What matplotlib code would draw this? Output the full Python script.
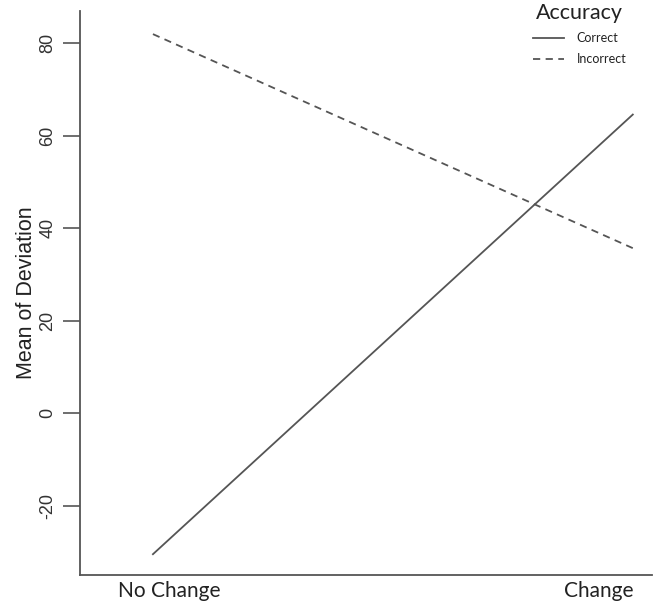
import matplotlib
matplotlib.use("Agg")
import matplotlib.pyplot as plt
from matplotlib.lines import Line2D

conditions = ["No Change", "Change"]
correct = [-30.5, 64.6]
incorrect = [82.0, 35.7]
yticks = [-20, 0, 20, 40, 60, 80]

fig = plt.figure(figsize=(6.55, 6.02), dpi=100)
ax = fig.add_axes([80 / 655, 27 / 602, 572 / 655, 564 / 602])

xpos = [1, 2]
ax.plot(xpos, correct, color="#555555", lw=1.3, ls="-")
ax.plot(xpos, incorrect, color="#555555", lw=1.3, ls=(0, (4, 3)))

ax.set_xlim(0.848, 2.04)
ax.set_ylim(-35, 87)

for s in ["top", "right"]:
    ax.spines[s].set_visible(False)
for s in ["left", "bottom"]:
    ax.spines[s].set_color("#555555")
    ax.spines[s].set_linewidth(1.3)

ax.set_yticks(yticks)
ax.set_yticklabels([str(v) for v in yticks], rotation=90, va="center",
                   fontsize=13, family="Liberation Sans", color="#333333")
ax.tick_params(axis="y", length=12, width=1.2, color="#555555", pad=5)

# x labels sit slightly off the data points in the original
ax.set_xticks([1.035, 1.93])
ax.set_xticklabels(conditions, fontsize=15, family="Lato", color="#222222")
ax.tick_params(axis="x", length=0, pad=4)

ax.set_ylabel("Mean of Deviation", fontsize=15.5, family="Liberation Sans",
              color="#222222", labelpad=2)

handles = [Line2D([], [], color="#555555", lw=1.3, ls="-"),
           Line2D([], [], color="#555555", lw=1.3, ls=(0, (4, 3)))]
leg = ax.legend(handles, ["Correct", "Incorrect"], title="Accuracy",
                loc="upper right", bbox_to_anchor=(0.975, 1.035), frameon=False,
                prop={"family": "Lato", "size": 9}, handlelength=2.5,
                handletextpad=1.0, labelspacing=0.75)
leg.get_title().set_fontsize(15.5)
leg.get_title().set_family("Lato")
leg.get_title().set_color("#222222")
for t in leg.get_texts():
    t.set_color("#222222")

fig.savefig("out.png", dpi=100)
